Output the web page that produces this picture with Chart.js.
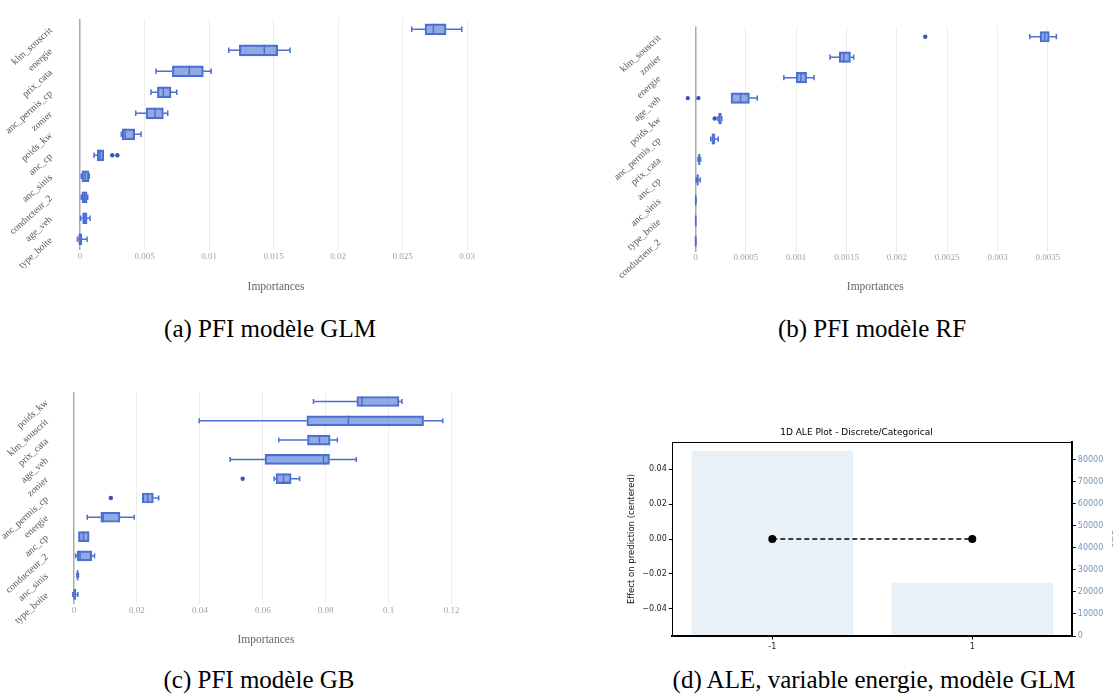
<!DOCTYPE html>
<html>
<head>
<meta charset="utf-8">
<script src="https://cdn.jsdelivr.net/npm/chart.js@4.4.0/dist/chart.umd.min.js"></script>
<style>
  body { margin: 0; background: #fff; }
  #page { position: relative; width: 1113px; height: 695px; overflow: hidden; background: #fff; }
  #page canvas { position: absolute; }
  .cap { position: absolute; width: 500px; text-align: center; font-family: 'Liberation Serif', serif; font-size: 25px; line-height: 28px; color: #000; }
</style>
</head>
<body>
<div id="page">
  <canvas id="glm" width="500" height="300" style="left:0;top:0"></canvas>
  <canvas id="rf" width="553" height="300" style="left:560px;top:0"></canvas>
  <canvas id="gb" width="500" height="285" style="left:0;top:370px"></canvas>
  <canvas id="ale" width="513" height="240" style="left:600px;top:420px"></canvas>
  <div class="cap" style="left:20px;top:315px">(a) PFI modèle GLM</div>
  <div class="cap" style="left:622px;top:315px">(b) PFI modèle RF</div>
  <div class="cap" style="left:9px;top:666px">(c) PFI modèle GB</div>
  <div class="cap" style="left:624px;top:666px">(d) ALE, variable energie, modèle GLM</div>
</div>
<script>
// (a) permutation importances, GLM
const glmLabels = ['klm_souscrit', 'energie', 'prix_cata', 'anc_permis_cp', 'zonier', 'poids_kw', 'anc_cp', 'anc_sinis', 'conducteur_2', 'age_veh', 'type_boite'];
const glmMin = [0.02571, 0.01153, 0.00589, 0.0055, 0.00432, 0.0032, 0.00109, 0.0001, 0.0001, 0.00005, -0.0002];
const glmQ1  = [0.02674, 0.01235, 0.00716, 0.0060, 0.00512, 0.00328, 0.00134, 0.00015, 0.00015, 0.0002, -0.0001];
const glmMed = [0.02739, 0.01429, 0.00847, 0.00646, 0.00581, 0.00351, 0.00155, 0.0004, 0.00035, 0.00035, 0.00002];
const glmQ3  = [0.02837, 0.01532, 0.00956, 0.00705, 0.00646, 0.00424, 0.00184, 0.0007, 0.00055, 0.00055, 0.00015];
const glmMax = [0.02959, 0.01628, 0.01016, 0.0075, 0.0068, 0.00473, 0.00184, 0.00072, 0.0006, 0.00078, 0.00055];
const glmOutX = [0.0025, 0.00289];
const glmOutY = ['anc_cp', 'anc_cp'];
const glmTicks = [0, 0.005, 0.01, 0.015, 0.02, 0.025, 0.03];

// (b) permutation importances, RF
const rfLabels = ['klm_souscrit', 'zonier', 'energie', 'age_veh', 'poids_kw', 'anc_permis_cp', 'prix_cata', 'anc_cp', 'anc_sinis', 'type_boite', 'conducteur_2'];
const rfMin = [0.00332, 0.001335, 0.000877, 0.000352, 0.000222, 0.000151, 0.000024, 0.000007, 0.0000005, 0, 0];
const rfQ1  = [0.003422, 0.001427, 0.001, 0.000352, 0.000229, 0.000162, 0.00003, 0.000014, 0.000001, 0, 0];
const rfMed = [0.003468, 0.001472, 0.001046, 0.000447, 0.000239, 0.000172, 0.000035, 0.00002, 0.000002, 0.0000005, 0];
const rfQ3  = [0.003514, 0.001539, 0.001103, 0.000535, 0.000257, 0.000193, 0.000046, 0.000028, 0.000003, 0.000001, 0.0000005];
const rfMax = [0.003584, 0.001571, 0.001177, 0.000613, 0.00026, 0.000225, 0.00005, 0.000046, 0.000004, 0.000001, 0.000001];
const rfOutX = [0.002282, -0.000078, 0.000028, 0.00019];
const rfOutY = ['klm_souscrit', 'age_veh', 'age_veh', 'poids_kw'];
const rfTicks = [0, 0.0005, 0.001, 0.0015, 0.002, 0.0025, 0.003, 0.0035];

// (c) permutation importances, GB
const gbLabels = ['poids_kw', 'klm_souscrit', 'prix_cata', 'age_veh', 'zonier', 'anc_permis_cp', 'energie', 'anc_cp', 'conducteur_2', 'anc_sinis', 'type_boite'];
const gbMin = [0.0761, 0.0398, 0.0651, 0.0496, 0.0636, 0.0217, 0.0042, 0.0014, 0.0005, 0.0009, -0.0004];
const gbQ1  = [0.0899, 0.074, 0.0742, 0.0607, 0.0642, 0.0217, 0.0085, 0.0014, 0.001, 0.001, -0.0001];
const gbMed = [0.0915, 0.0872, 0.078, 0.0793, 0.0666, 0.0234, 0.0093, 0.003, 0.0019, 0.0011, 0.0003];
const gbQ3  = [0.1033, 0.1111, 0.0814, 0.0812, 0.069, 0.0252, 0.0146, 0.0048, 0.0056, 0.0013, 0.0006];
const gbMax = [0.1042, 0.1172, 0.0837, 0.0897, 0.0717, 0.0269, 0.0191, 0.0048, 0.0065, 0.0014, 0.0012];
const gbOutX = [0.0536, 0.0117];
const gbOutY = ['zonier', 'anc_permis_cp'];
const gbTicks = [0, 0.02, 0.04, 0.06, 0.08, 0.1, 0.12];

// (d) ALE of energie, GLM
const aleCats = ['-1', '1'];
const aleEffect = [0, 0];
const aleSize = [83800, 24100];
const aleEffectTicks = [-0.04, -0.02, 0, 0.02, 0.04];
const aleSizeTicks = [0, 10000, 20000, 30000, 40000, 50000, 60000, 70000, 80000];

const SERIF = "'Liberation Serif', 'DejaVu Serif', serif";
const SANS = "'DejaVu Sans', sans-serif";
const boxLine = '#4a6fd1';
const boxFill = 'rgba(74,111,209,0.6)';

// whiskers under the boxes, medians on top
function whiskerPlugin(s) {
  return {
    id: 'whiskers',
    beforeDatasetsDraw(chart) {
      const { ctx } = chart;
      const x = chart.scales.x, y = chart.scales.y;
      const p = v => x.getPixelForValue(v);
      const cap = s.thick * 0.25;
      ctx.save();
      ctx.strokeStyle = boxLine;
      ctx.lineWidth = 1.5;
      ctx.beginPath();
      s.labels.forEach((_, i) => {
        const py = y.getPixelForValue(i);
        ctx.moveTo(p(s.min[i]), py); ctx.lineTo(p(s.q1[i]), py);
        ctx.moveTo(p(s.q3[i]), py); ctx.lineTo(p(s.max[i]), py);
        if (s.min[i] < s.q1[i]) { ctx.moveTo(p(s.min[i]), py - cap); ctx.lineTo(p(s.min[i]), py + cap); }
        if (s.max[i] > s.q3[i]) { ctx.moveTo(p(s.max[i]), py - cap); ctx.lineTo(p(s.max[i]), py + cap); }
      });
      ctx.stroke();
      ctx.restore();
    },
    afterDatasetsDraw(chart) {
      const { ctx } = chart;
      const x = chart.scales.x, y = chart.scales.y;
      const h = s.thick / 2;
      ctx.save();
      ctx.strokeStyle = boxLine;
      ctx.lineWidth = 1.5;
      ctx.beginPath();
      s.labels.forEach((_, i) => {
        const py = y.getPixelForValue(i);
        const px = x.getPixelForValue(s.med[i]);
        ctx.moveTo(px, py - h); ctx.lineTo(px, py + h);
      });
      ctx.stroke();
      ctx.restore();
    }
  };
}

function boxChart(id, s) {
  return new Chart(document.getElementById(id), {
    type: 'bar',
    data: {
      labels: s.labels,
      datasets: [
        {
          data: s.labels.map((_, i) => [s.q1[i], s.q3[i]]),
          backgroundColor: boxFill,
          borderColor: boxLine,
          borderWidth: 1.5,
          borderSkipped: false,
          barThickness: s.thick
        },
        {
          type: 'scatter',
          data: s.outX.map((v, i) => ({ x: v, y: s.outY[i] })),
          pointRadius: 2.2,
          backgroundColor: '#3656b5',
          borderWidth: 0
        }
      ]
    },
    options: {
      indexAxis: 'y',
      responsive: false,
      animation: false,
      layout: { padding: { top: s.top, right: s.right, left: 0, bottom: 0 } },
      plugins: { legend: { display: false }, tooltip: { enabled: false } },
      scales: {
        x: {
          type: 'linear',
          min: s.xmin,
          max: s.xmax,
          afterBuildTicks: sc => { sc.ticks = s.ticks.map(v => ({ value: v })); },
          afterFit: sc => { sc.height = s.axisH; },
          grid: {
            drawTicks: false,
            color: c => (c.tick && c.tick.value === 0 ? '#a9a9a9' : '#ededed'),
            lineWidth: c => (c.tick && c.tick.value === 0 ? 1.5 : 1)
          },
          border: { display: false },
          ticks: { padding: 1, color: '#a3a3a3', font: { family: SERIF, size: 9 }, callback: v => String(v) },
          title: {
            display: true, text: 'Importances', color: '#666',
            font: { family: SERIF, size: 11.5 }, padding: { top: 0, bottom: s.titlePad }
          }
        },
        y: {
          afterFit: sc => { sc.width = s.axisW; },
          grid: { display: false },
          border: { display: false },
          ticks: {
            autoSkip: false, minRotation: 42, maxRotation: 42, padding: s.labelPad,
            color: '#555', font: { family: SERIF, size: 9.8 }
          }
        }
      }
    },
    plugins: [whiskerPlugin(s)]
  });
}

boxChart('glm', {
  labels: glmLabels, min: glmMin, q1: glmQ1, med: glmMed, q3: glmQ3, max: glmMax,
  outX: glmOutX, outY: glmOutY, ticks: glmTicks,
  xmin: -0.00062, xmax: 0.031, thick: 11,
  top: 13.25, right: 20, axisW: 72, axisH: 50.25, titlePad: 6.4, labelPad: 13
});

boxChart('rf', {
  labels: rfLabels, min: rfMin, q1: rfQ1, med: rfMed, q3: rfQ3, max: rfMax,
  outX: rfOutX, outY: rfOutY, ticks: rfTicks,
  xmin: -0.0001, xmax: 0.00367, thick: 10.5,
  top: 26.5, right: 48, axisW: 125.5, axisH: 48.5, titlePad: 6.4, labelPad: 18
});

boxChart('gb', {
  labels: gbLabels, min: gbMin, q1: gbQ1, med: gbMed, q3: gbQ3, max: gbMax,
  outX: gbOutX, outY: gbOutY, ticks: gbTicks,
  xmin: -0.001, xmax: 0.123, thick: 10,
  top: 11.6, right: 39, axisW: 70.9, axisH: 50.9, titlePad: 8.4, labelPad: 16
});

// ALE panel: matplotlib-like frame
const topFrame = {
  id: 'topFrame',
  afterDraw(chart) {
    const { ctx, chartArea: a } = chart;
    ctx.save();
    ctx.strokeStyle = '#000';
    ctx.lineWidth = 1;
    ctx.beginPath();
    ctx.moveTo(a.left, a.top + 0.5);
    ctx.lineTo(a.right, a.top + 0.5);
    ctx.stroke();
    ctx.restore();
  }
};

new Chart(document.getElementById('ale'), {
  type: 'bar',
  data: {
    labels: aleCats,
    datasets: [
      {
        type: 'line',
        data: aleEffect,
        yAxisID: 'y',
        borderColor: '#000',
        borderWidth: 1.5,
        borderDash: [5, 3],
        pointRadius: 4,
        pointBackgroundColor: '#000',
        pointBorderWidth: 0,
        order: 0
      },
      {
        type: 'bar',
        data: aleSize,
        yAxisID: 'y2',
        backgroundColor: 'rgba(31,119,180,0.1)',
        barPercentage: 0.807,
        categoryPercentage: 1,
        order: 1
      }
    ]
  },
  options: {
    responsive: false,
    animation: false,
    layout: { padding: 0 },
    plugins: {
      legend: { display: false },
      tooltip: { enabled: false },
      title: {
        display: true,
        text: '1D ALE Plot - Discrete/Categorical',
        color: '#000',
        font: { family: SANS, size: 9, weight: 'normal' },
        padding: { top: 7.6, bottom: 3.6 }
      }
    },
    scales: {
      x: {
        offset: true,
        afterFit: sc => { sc.height = 24; },
        grid: { drawOnChartArea: false, offset: false, tickLength: 3.5, tickColor: '#000' },
        border: { display: true, color: '#000', width: 2 },
        ticks: { padding: 2.5, color: '#222', font: { family: SANS, size: 8 } }
      },
      y: {
        position: 'left',
        min: -0.0555,
        max: 0.0555,
        afterBuildTicks: sc => { sc.ticks = aleEffectTicks.map(v => ({ value: v })); },
        afterFit: sc => { sc.width = 72.3; },
        grid: { drawOnChartArea: false, tickLength: 3.5, tickColor: '#000' },
        border: { display: true, color: '#000', width: 1 },
        ticks: { padding: 2, color: '#222', font: { family: SANS, size: 8 },
                 callback: v => v.toFixed(2).replace('-', '\u2212') },
        title: { display: true, text: 'Effect on prediction (centered)', color: '#111',
                 font: { family: SANS, size: 8.5 }, padding: { top: 26.6, bottom: 0 } }
      },
      y2: {
        position: 'right',
        min: 0,
        max: 87900,
        afterBuildTicks: sc => { sc.ticks = aleSizeTicks.map(v => ({ value: v })); },
        afterFit: sc => { sc.width = 40.7; },
        grid: { drawOnChartArea: false, tickLength: 3.5, tickColor: '#000' },
        border: { display: true, color: '#000', width: 2 },
        ticks: { padding: 2, color: '#7595b5', font: { family: SANS, size: 8 }, callback: v => String(v) },
        title: { display: true, text: 'Size', color: '#7595b5',
                 font: { family: SANS, size: 8.5 }, padding: { top: -6, bottom: 0 } }
      }
    }
  },
  plugins: [topFrame]
});
</script>
</body>
</html>
